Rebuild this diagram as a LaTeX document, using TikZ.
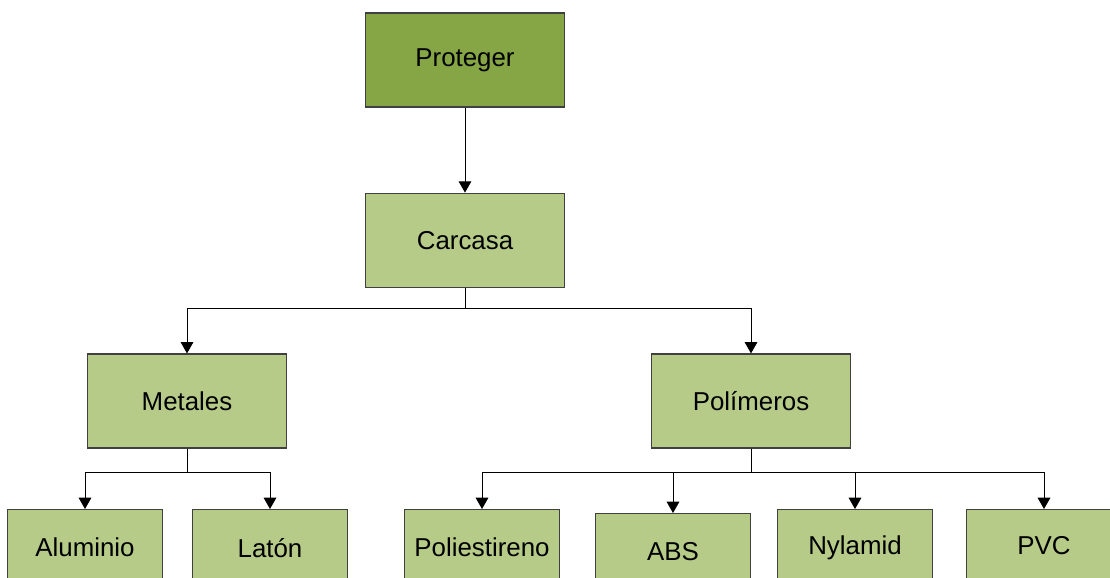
\documentclass[tikz,border=0pt]{standalone}
\usepackage{fontspec}
\setmainfont{Liberation Sans}
\usepackage{tikz}
\usetikzlibrary{positioning,arrows.meta}
\definecolor{oliva}{HTML}{86A646}
\definecolor{pasto}{HTML}{B7CB89}
\definecolor{borde}{HTML}{404040}

\begin{document}
\begin{tikzpicture}[x=0.75pt, y=-0.75pt,
    cajon/.style = {rectangle, draw=borde, line width=0.9pt, fill=pasto,
        minimum width=149pt, minimum height=70.5pt,
        font=\fontsize{19.4}{23}\selectfont},
    hoja/.style = {cajon, minimum width=116pt, minimum height=57pt, anchor=north},
    >={Triangle[length=8.5pt,width=9.5pt]}, line width=0.75pt]
     \path[use as bounding box, clip] (0,0) rectangle (1110,578);

     \node[cajon, fill=oliva] (proteger) at (465,60) {Proteger};
     \node[cajon] (carcasa) [below=63.75pt of proteger] {Carcasa};
     \node[cajon] (metales) at (187,401) {Metales};
     \node[cajon] (polimeros) at (751,401) {Polímeros};

     \node[hoja] (aluminio) at (85,509) {Aluminio};
     \node[hoja] (laton) at (270,509) {Latón};
     \node[hoja] (poliestireno) at (482,509) {Poliestireno};
     \node[hoja] (abs) at (673,513) {ABS};
     \node[hoja] (nylamid) at (855,509) {Nylamid};
     \node[hoja, minimum height=54pt] (pvc) at (1044,509) {PVC};

     \draw[->] (proteger)--(carcasa);
     \draw[->] (carcasa.south)--++(0,21)-|(metales.north);
     \draw[->] (carcasa.south)--++(0,21)-|(polimeros.north);
     \draw[->] (metales.south)--++(0,24)-|(aluminio.north);
     \draw[->] (metales.south)--++(0,24)-|(laton.north);
     \draw[->] (polimeros.south)--++(0,24)-|(poliestireno.north);
     \draw[->] (polimeros.south)--++(0,24)-|(abs.north);
     \draw[->] (polimeros.south)--++(0,24)-|(nylamid.north);
     \draw[->] (polimeros.south)--++(0,24)-|(pvc.north);
\end{tikzpicture}
\end{document}
